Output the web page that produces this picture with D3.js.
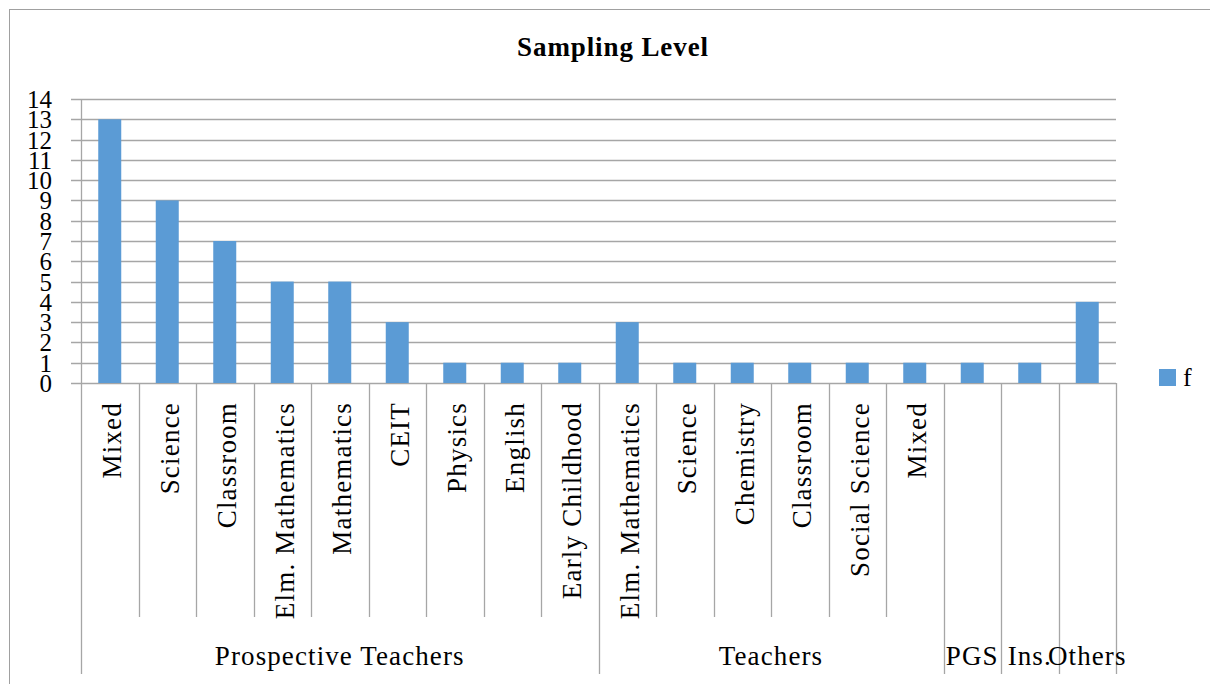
<!DOCTYPE html>
<html>
<head>
<meta charset="utf-8">
<script src="https://cdn.jsdelivr.net/npm/d3@7"></script>
<style>
  html, body { margin: 0; padding: 0; background: #fff; }
  svg { display: block; }
  text { font-family: "Liberation Serif", "Times New Roman", serif; fill: #000; }
</style>
</head>
<body>
<svg id="chart" width="1210" height="684"></svg>
<script>
const categories = ["Mixed", "Science", "Classroom", "Elm. Mathematics", "Mathematics", "CEIT", "Physics", "English", "Early Childhood",
  "Elm. Mathematics", "Science", "Chemistry", "Classroom", "Social Science", "Mixed", "", "", ""];
const groups = ["Prospective Teachers", "Prospective Teachers", "Prospective Teachers", "Prospective Teachers", "Prospective Teachers",
  "Prospective Teachers", "Prospective Teachers", "Prospective Teachers", "Prospective Teachers",
  "Teachers", "Teachers", "Teachers", "Teachers", "Teachers", "Teachers", "PGS", "Ins.", "Others"];
const values = [13, 9, 7, 5, 5, 3, 1, 1, 1, 3, 1, 1, 1, 1, 1, 1, 1, 4];
const yTicks = [0, 1, 2, 3, 4, 5, 6, 7, 8, 9, 10, 11, 12, 13, 14];
const seriesName = "f";
const chartTitle = "Sampling Level";

(function () {
const svg = d3.select("#chart");
const gridColor = "#a6a6a6";
const barColor = "#5b9bd5";

const pLeft = 81, pRight = 1116, pTop = 99, pBottom = 383;
const catBottom = 617, groupBottom = 674;

const x = d3.scaleBand().domain(d3.range(categories.length)).range([pLeft, pRight]).paddingInner(0).paddingOuter(0);
const y = d3.scaleLinear().domain([0, 14]).range([pBottom, pTop]);

// outer border (right and bottom edges fall outside the picture)
svg.append("rect").attr("x", 9.5).attr("y", 9.5).attr("width", 1220).attr("height", 700)
  .attr("fill", "none").attr("stroke", "#a0a0a0").attr("stroke-width", 1);

// title
svg.append("text").attr("x", 613).attr("y", 56).attr("text-anchor", "middle")
  .attr("font-size", 27).attr("font-weight", "bold").attr("letter-spacing", "0.9px").text(chartTitle);

// gridlines (extend to the left as tick marks)
svg.append("g").selectAll("line").data(yTicks).join("line")
  .attr("x1", pLeft - 10).attr("x2", pRight)
  .attr("y1", d => Math.round(y(d)) + 0.5).attr("y2", d => Math.round(y(d)) + 0.5)
  .attr("stroke", gridColor).attr("stroke-width", 1.3);

// y axis via d3
const yAxis = d3.axisLeft(y).tickValues(yTicks).tickSize(0).tickPadding(29).tickFormat(d3.format("d"));
const yg = svg.append("g").attr("transform", `translate(${pLeft},0)`).call(yAxis);
yg.select(".domain").remove();
yg.selectAll("text").attr("font-size", 25).attr("font-family", "Liberation Serif").attr("fill", "#000").attr("dy", "0.34em");

// vertical axis line
svg.append("line").attr("x1", pLeft + 0.5).attr("x2", pLeft + 0.5).attr("y1", pTop).attr("y2", groupBottom)
  .attr("stroke", gridColor).attr("stroke-width", 1.3);

// bars
const barW = x.bandwidth() * 0.4;
svg.append("g").selectAll("rect").data(values).join("rect")
  .attr("x", (d, i) => x(i) + (x.bandwidth() - barW) / 2)
  .attr("y", d => y(d))
  .attr("width", barW)
  .attr("height", d => y(0) - y(d))
  .attr("fill", barColor);

// category separators
const sepIdx = d3.range(1, categories.length + 1);
svg.append("g").selectAll("line").data(sepIdx).join("line")
  .attr("x1", i => Math.round(i < categories.length ? x(i) : pRight) + 0.5)
  .attr("x2", i => Math.round(i < categories.length ? x(i) : pRight) + 0.5)
  .attr("y1", pBottom)
  .attr("y2", i => (i === categories.length || groups[i] !== groups[i - 1]) ? groupBottom : catBottom)
  .attr("stroke", gridColor).attr("stroke-width", 1.3);

// category labels (rotated)
svg.append("g").selectAll("text").data(categories).join("text")
  .attr("transform", (d, i) => `translate(${x(i) + x.bandwidth() / 2 + 1},402) rotate(-90)`)
  .attr("text-anchor", "end").attr("dy", "0.38em")
  .attr("font-size", 27).attr("letter-spacing", "1.2px").text(d => d);

// group labels
const groupSpans = [];
groups.forEach((g, i) => {
  if (i === 0 || g !== groups[i - 1]) groupSpans.push({ name: g, start: i, end: i });
  else groupSpans[groupSpans.length - 1].end = i;
});
svg.append("g").selectAll("text").data(groupSpans).join("text")
  .attr("x", d => (x(d.start) + x(d.end) + x.bandwidth()) / 2)
  .attr("y", 665).attr("text-anchor", "middle")
  .attr("font-size", 27).attr("letter-spacing", "1.1px").text(d => d.name);

// legend
svg.append("rect").attr("x", 1159).attr("y", 369).attr("width", 17).attr("height", 17).attr("fill", barColor);
svg.append("text").attr("x", 1183).attr("y", 386).attr("font-size", 26).text(seriesName);
})();
</script>
</body>
</html>
